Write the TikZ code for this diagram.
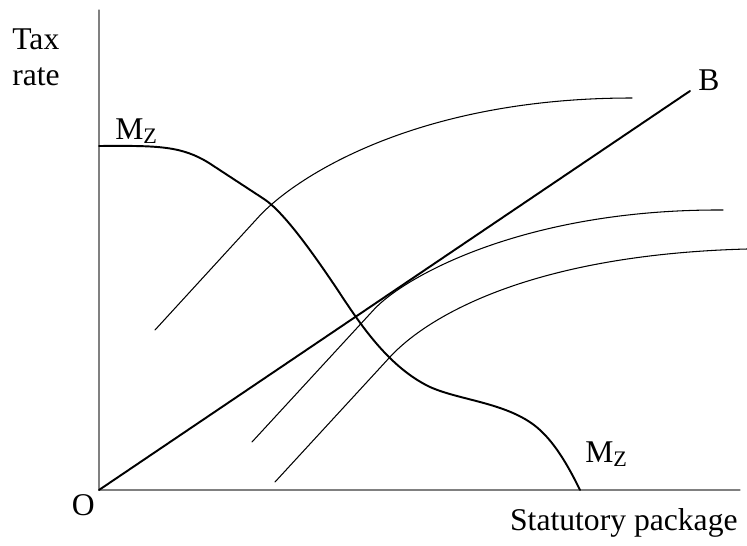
\documentclass[tikz,border=0pt]{standalone}
\usepackage{fontspec}
\setmainfont{Liberation Serif}
\begin{document}
\begin{tikzpicture}[scale=1, font=\fontsize{18}{20.5}\selectfont, line join=round, line cap=round,
		axis/.style={gray, line width=0.6pt},
		curve/.style={line width=0.6pt},
		mcurve/.style={line width=1.1pt},
		lbl/.style={inner sep=0pt}]
		\def\xmin{-1.98} \def\xmax{12.96}
		\def\ymin{-1.1} \def\ymax{9.8}
		\useasboundingbox (\xmin,\ymin) rectangle (\xmax,\ymax);
		% Trục
		\coordinate (O) at (0,0);
		\coordinate (ytop) at (0,9.6);
		\coordinate (xend) at (12.82,0);
		\draw[axis] (ytop)--(O)--(xend);
		\node[lbl, anchor=base east] (Olbl) at (-0.08,-0.5) {O};
		\node[lbl, anchor=north west, align=left] (taxrate) at (-1.74,9.24) {Tax\\rate};
		\node[lbl, anchor=base east] (package) at (12.78,-0.8) {Statutory package};
		% Đường B
		\coordinate (B) at (11.82,7.98);
		\draw[line width=1.1pt] (O)--(B);
		\node[lbl, anchor=base west] (Blbl) at (11.98,8.0) {B};
		% Đường M_Z
		\draw[mcurve] (0,6.88) .. controls (1.2,6.89) and (1.65,6.88) .. (2.2,6.54)
			-- (3.3,5.82) .. controls (3.7,5.56) and (4.3,4.7) .. (4.68,4.14)
			.. controls (5.1,3.52) and (5.7,2.5) .. (6.62,2.06)
			.. controls (7.2,1.8) and (8.1,1.75) .. (8.7,1.3)
			.. controls (9.1,1.0) and (9.4,0.45) .. (9.62,0);
		\node[lbl, anchor=base west] (Mtop) at (0.32,7.02) {M\textsubscript{Z}};
		\node[lbl, anchor=base west] (Mbot) at (9.72,0.56) {M\textsubscript{Z}};
		% Các đường cong mỏng
		\draw[curve] (1.12,3.2) -- (3.2,5.47) .. controls (3.9,6.23) and (6.3,7.84) .. (10.66,7.84);
		\draw[curve] (3.06,0.96) -- (5.5,3.61) .. controls (6.1,4.26) and (8.5,5.62) .. (12.48,5.6);
		\draw[curve] (3.52,0.16) -- (5.82,2.66) .. controls (6.5,3.4) and (8.5,4.7) .. (12.96,4.82);
\end{tikzpicture}
\end{document}
